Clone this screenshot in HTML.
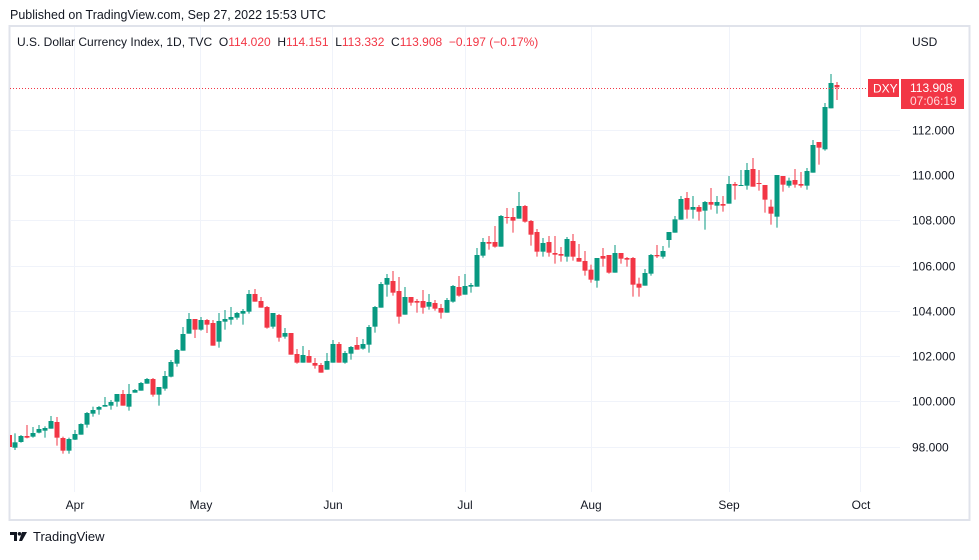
<!DOCTYPE html>
<html><head><meta charset="utf-8"><style>
html,body{margin:0;padding:0;background:#fff;}
body{width:979px;height:555px;overflow:hidden;font-family:"Liberation Sans",sans-serif;}
</style></head><body>
<svg id="s" width="979" height="555" xmlns="http://www.w3.org/2000/svg" font-family="Liberation Sans, sans-serif">
<rect width="979" height="555" fill="#fff"/>
<text x="10" y="19" font-size="12.5" fill="#131722">Published on TradingView.com, Sep 27, 2022 15:53 UTC</text>
<rect x="9.5" y="26" width="960" height="494" fill="none" stroke="#e0e3eb" stroke-width="2"/>
<g id="grid" stroke="#f0f3fa" stroke-width="1"></g>
<g id="c"></g>
<line x1="10" y1="88.5" x2="900" y2="88.5" stroke="#f23645" stroke-dasharray="1,2" stroke-width="1"/>
<text x="17" y="46" font-size="12" fill="#131722" style="white-space:pre" xml:space="preserve">U.S. Dollar Currency Index, 1D, TVC  O<tspan fill="#f23645">114.020</tspan>  H<tspan fill="#f23645">114.151</tspan>  L<tspan fill="#f23645">113.332</tspan>  C<tspan fill="#f23645">113.908</tspan>  <tspan fill="#f23645">−0.197 (−0.17%)</tspan></text>
<text x="912" y="46" font-size="12" fill="#131722">USD</text>
<g id="yl" font-size="12" fill="#131722"></g>
<rect x="868" y="79" width="31" height="18" fill="#f23645"/>
<text x="873" y="92.5" font-size="12" fill="#fff">DXY</text>
<rect x="901" y="79" width="63" height="30" fill="#f23645"/>
<text x="910" y="92" font-size="12" fill="#fff">113.908</text>
<text x="910" y="105" font-size="12" fill="#ffd6d9">07:06:19</text>
<g font-size="12" fill="#131722" text-anchor="middle">
<text x="75" y="509">Apr</text><text x="201" y="509">May</text><text x="333" y="509">Jun</text><text x="465" y="509">Jul</text><text x="591" y="509">Aug</text><text x="729" y="509">Sep</text><text x="861" y="509">Oct</text>
</g>
<g transform="translate(10,532)" fill="#131722">
<path d="M0 0h7v9h-3v-6h-4z"/><circle cx="9.5" cy="1.8" r="1.8"/><path d="M12 0h5l-5 9h-3z"/>
</g>
<text x="33" y="541" font-size="13" fill="#131722">TradingView</text>
</svg>
<script>
var NS="http://www.w3.org/2000/svg";
function el(t,a,p){var e=document.createElementNS(NS,t);for(var k in a)e.setAttribute(k,a[k]);p.appendChild(e);return e;}
var g=document.getElementById('grid'),c=document.getElementById('c'),yl=document.getElementById('yl');
[74.5,200.5,332.5,465.5,591.5,729.5,860.5].forEach(function(x){el('line',{x1:x,y1:27,x2:x,y2:492},g);});
var labs=[[112,130],[110,175],[108,220],[106,266],[104,311],[102,356],[100,401],[98,447]];
labs.forEach(function(l){el('line',{x1:10,y1:l[1]+.5,x2:900,y2:l[1]+.5},g);var t=el('text',{x:912,y:l[1]+4.5},yl);t.textContent=l[0].toFixed(3);});
var G1=[[517,533,490,540,'G'],[498,516,495,518,'G'],[498,503,465,505,'R'],[489,500,471,503,'G'],[477,488,465,490,'G'],[474,482,469,503,'G'],[453,476,438,476,'G'],[456,503,441,527,'R'],[504,542,500,551,'R'],[507,542,503,551,'G'],[492,509,480,510,'G'],[462,494,460,494,'G'],[429,464,426,473,'G'],[420,431,410,440,'G'],[411,419,408,434,'G'],[405,410,381,410,'G'],[396,407,390,419,'G'],[372,395,372,410,'G'],[372,407,360,407,'R'],[372,410,342,422,'G'],[360,368,357,368,'G'],[339,362,336,362,'G'],[327,341,324,341,'G'],[327,374,324,380,'R'],[351,374,351,407,'G'],[318,356,303,362,'G'],[276,320,270,322,'G'],[240,281,237,290,'G'],[192,242,171,242,'G'],[147,191,129,191,'G'],[147,179,147,204,'R'],[150,179,141,182,'G'],[150,164,147,189,'R'],[159,227,150,227,'R'],[153,215,129,233,'G'],[147,155,120,179,'G'],[141,149,111,164,'G'],[129,143,126,149,'G'],[123,131,117,164,'G'],[72,125,60,131,'G'],[72,95,57,95,'R'],[93,113,81,113,'R'],[111,173,108,176,'R'],[129,170,129,176,'G'],[135,203,132,215,'R'],[189,200,174,206,'G'],[189,254,189,254,'R'],[252,278,237,281,'R'],[255,278,228,278,'G'],[258,278,240,278,'R'],[279,287,264,296,'R'],[285,308,279,308,'R'],[273,299,249,299,'G'],[222,278,210,278,'G']];
var G2=[[492,548,486,548,'R'],[519,548,513,551,'G'],[501,521,498,539,'G'],[495,509,471,509,'R'],[492,506,477,509,'G'],[441,494,435,518,'G'],[381,440,378,458,'G'],[312,383,306,383,'G'],[294,314,282,350,'G'],[303,338,273,347,'R'],[333,410,291,431,'R'],[351,404,321,404,'G'],[351,368,351,377,'R'],[363,368,357,398,'R'],[363,383,330,401,'R'],[366,380,342,389,'G'],[369,386,360,392,'R'],[384,398,372,416,'R'],[360,398,354,398,'G'],[318,365,315,368,'G'],[321,347,288,350,'R'],[318,344,282,344,'G'],[315,320,309,338,'G'],[225,320,204,320,'G'],[186,227,174,233,'G'],[186,191,168,209,'R'],[186,200,138,203,'R'],[108,200,105,200,'G'],[111,113,84,131,'R'],[111,122,84,158,'R'],[78,116,36,116,'G'],[78,125,75,128,'R'],[123,164,120,197,'R'],[156,215,147,230,'R'],[189,215,174,230,'G'],[186,218,168,230,'R'],[219,224,168,251,'R'],[222,227,201,245,'R'],[177,230,171,245,'G'],[183,230,162,242,'R'],[234,245,192,245,'R'],[243,272,213,287,'R'],[269,299,254,308,'R'],[234,302,234,323,'G'],[228,236,204,260,'R'],[225,278,225,281,'R'],[219,278,195,278,'G'],[219,236,219,251,'R'],[234,239,231,260,'R'],[234,314,231,350,'R'],[311,323,293,350,'R'],[279,317,267,317,'G'],[225,281,222,287,'G'],[225,229,195,234,'R'],[213,230,198,236,'G']];
var G3=[[516,540,516,563,'G'],[478,518,468,518,'G'],[417,479,408,479,'G'],[414,449,396,476,'R'],[441,449,408,476,'G'],[441,455,435,482,'R'],[426,452,423,509,'G'],[426,434,384,449,'R'],[426,437,408,461,'G'],[432,437,408,455,'R'],[372,431,348,431,'G'],[372,377,366,419,'R'],[375,377,330,377,'G'],[330,377,309,389,'G'],[327,380,294,380,'R'],[369,371,330,392,'R'],[375,419,375,458,'R'],[440,461,419,494,'R'],[345,470,345,503,'G'],[348,374,348,395,'R'],[362,377,353,383,'G'],[360,374,327,383,'R'],[372,377,336,383,'R'],[333,377,324,389,'G'],[255,338,240,338,'G'],[246,263,246,314,'R'],[141,268,129,272,'G'],[69,145,42,145,'G'],[75,82,66,120,'R']];
var all=[];
G1.forEach(function(d){all.push([d,270]);});
G2.forEach(function(d){all.push([d,180]);});
G3.forEach(function(d){all.push([d,60]);});
function draw(x,d,o){var col=d[4]=='G'?'#089981':'#f23645';
var t=o+d[0]/3,b=o+d[1]/3,wt=o+d[2]/3,wb=o+d[3]/3;
el('rect',{x:x-0.5,y:wt,width:1,height:Math.max(wb-wt,1),fill:col},c);
el('rect',{x:x-2.5,y:t,width:5,height:Math.max(b-t,1),fill:col},c);}
el('rect',{x:10,y:435,width:2,height:12,fill:'#f23645'},c);
all.forEach(function(a,i){draw(15+6*i,a[0],a[1]);});
</script>
</body></html>
